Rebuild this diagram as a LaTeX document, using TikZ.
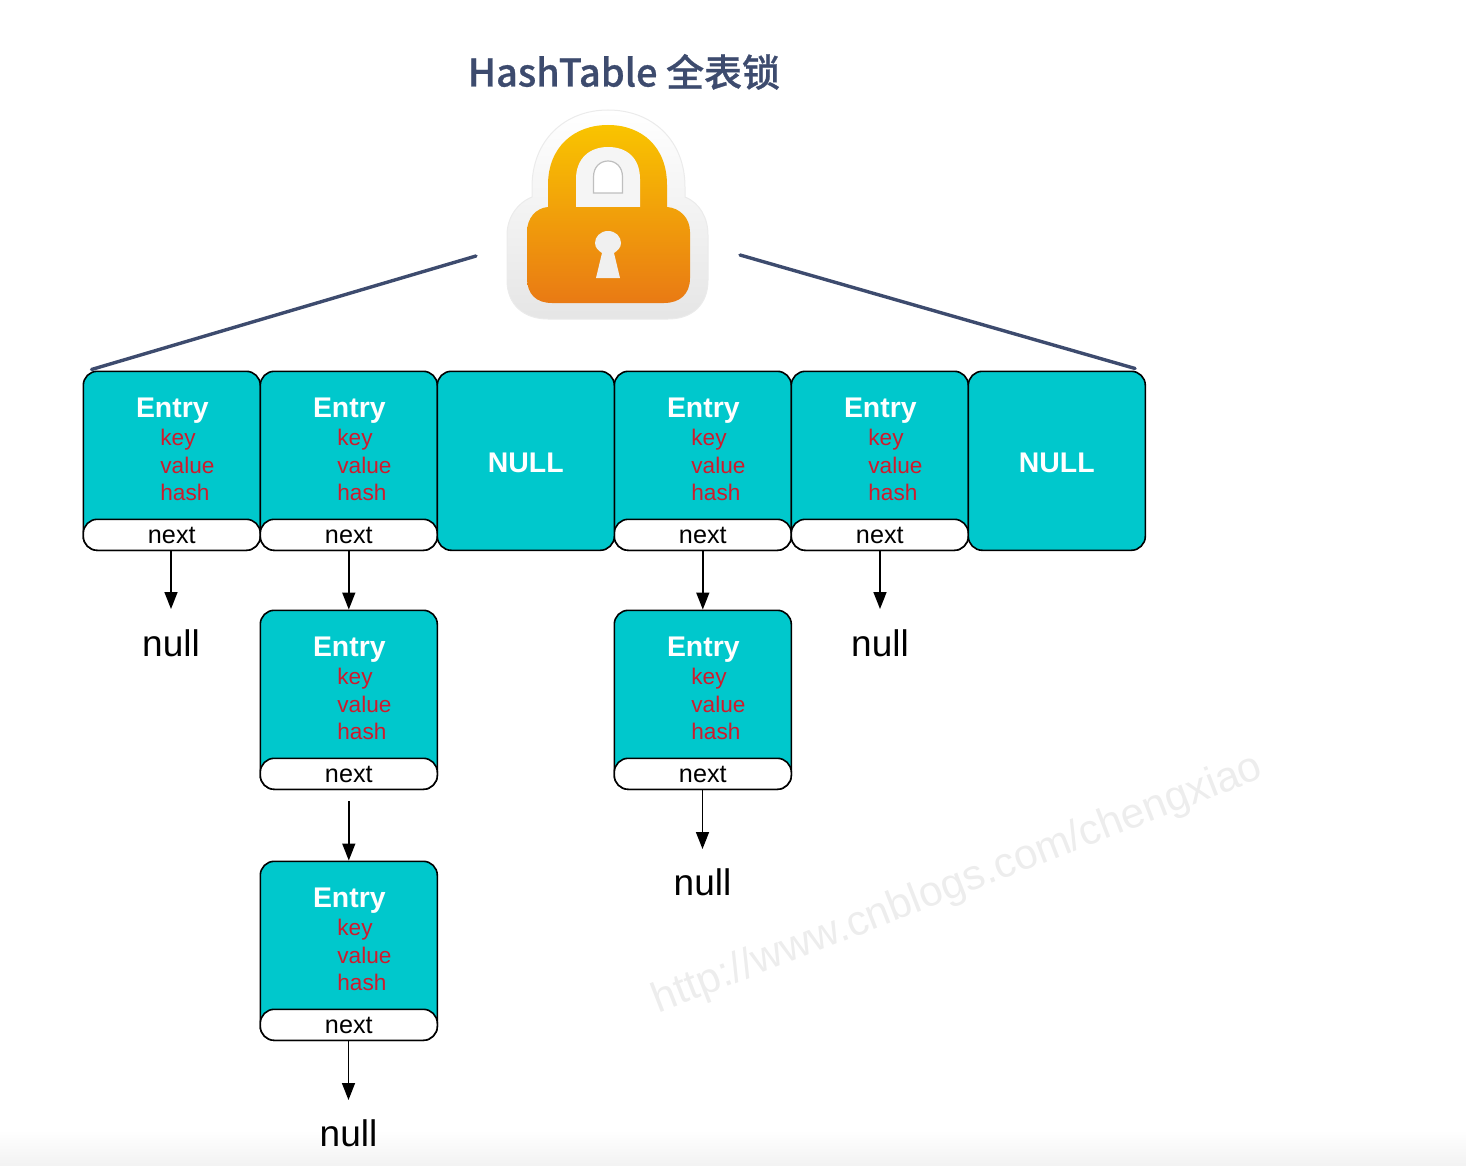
\documentclass[tikz,border=0pt]{standalone}
\usepackage{fontspec}
\setmainfont{Liberation Sans}
\newfontfamily\cjk[FakeBold=0.7]{Noto Sans CJK SC Medium}
\usepackage{tikz}
\usetikzlibrary{
	calc,
	arrows.meta,
	positioning
	}
\definecolor{teal-std}{HTML}{00C8CC}
\definecolor{red-std}{HTML}{D01A2C}
\definecolor{line-std}{HTML}{3D4B6E}
\definecolor{lock-top}{HTML}{F9C400}
\definecolor{lock-bot}{HTML}{E97A14}
\tikzstyle{entry-std}=[draw=black,line width=0.8pt,fill=teal-std,rounded corners=7pt,minimum width=88.5pt,minimum height=89.5pt,inner sep=0pt,anchor=north west]
\tikzstyle{next-std}=[draw=black,line width=0.8pt,fill=white,rounded corners=7pt,minimum width=88.5pt,minimum height=15.5pt,inner sep=0pt,anchor=south,font=\fontsize{12.6}{14}\selectfont,text=black,text height=8.4pt,text depth=0pt]
\tikzstyle{head-std}=[anchor=base,text=white,font=\fontsize{14.2}{16}\selectfont\bfseries]
\tikzstyle{field-std}=[anchor=base west,text=red-std,inner sep=0pt,font=\fontsize{11.3}{13}\selectfont]
\tikzstyle{null-std}=[anchor=base,inner sep=0pt,font=\fontsize{18.5}{20}\selectfont]
\tikzstyle{arrow-std}=[line width=0.8pt,-{Triangle[length=8.5pt,width=6.5pt]}]
\tikzstyle{wire-std}=[draw=line-std,line width=1.7pt,line cap=round]

\begin{document}
\begin{tikzpicture}[x=0.5pt,y=-0.5pt]
\useasboundingbox (0,0) rectangle (1466,1166);
\fill[top color=white,bottom color=black!5,draw=none] (0,1130) rectangle (1466,1166);

\node[rotate=21.3,text=black!7,font=\fontsize{21.2}{24}\selectfont] (mark) at (958,885) {http://www.cnblogs.com/chengxiao};

\node[anchor=base,text=line-std,inner sep=0pt,font=\fontsize{19}{22}\selectfont\cjk] (title) at (624,86.5) {HashTable 全表锁};

% lock
\path[top color=white,bottom color=black!10,draw=black!8,line width=0.5pt]
  (532,197) -- (532,187) .. controls (532,140) and (565,110) .. (608,110)
  .. controls (652,110) and (685,140) .. (685,187) -- (685,197)
  .. controls (700,203) and (708,218) .. (708,235) -- (708,280)
  .. controls (708,305) and (692,319) .. (668,319) -- (548,319)
  .. controls (524,319) and (507,305) .. (507,280) -- (507,235)
  .. controls (507,218) and (517,203) .. (532,197) -- cycle;
\path[top color=lock-top,bottom color=lock-bot]
  (548,207) -- (548,185) .. controls (548,147) and (574,125) .. (608,125)
  .. controls (642,125) and (667,147) .. (667,185) -- (667,207)
  .. controls (680,208) and (690,218) .. (690,232) -- (690,278)
  .. controls (690,294) and (680,303) .. (664,303) -- (552,303)
  .. controls (536,303) and (527,294) .. (527,278) -- (527,232)
  .. controls (527,218) and (536,208) .. (548,207) -- cycle;
\fill[black!4] (576,207) -- (576,179) .. controls (576,158) and (590,147) .. (608,147)
  .. controls (627,147) and (640,158) .. (640,179) -- (640,207) -- cycle;
\filldraw[fill=white,draw=black!25,line width=0.6pt] (593.5,193) -- (593.5,177) .. controls (593.5,167) and (600,161) .. (608,161)
  .. controls (616,161) and (622.5,167) .. (622.5,177) -- (622.5,193) -- cycle;
\fill[black!6] (608,231) .. controls (600,231) and (595,237) .. (595,243)
  .. controls (595,248) and (599,251) .. (602,253) -- (596,278) -- (620,278) -- (614,253)
  .. controls (617,251) and (621,248) .. (621,243) .. controls (621,237) and (616,231) .. (608,231) -- cycle;

\coordinate (lockL) at (476,256);
\coordinate (lockR) at (740,255);

% entries
\foreach \name/\x/\y in {a/83/371,b/260/371,d/614/371,e/791/371,b2/260/610,d2/614/610,b3/260/861}{
  \node[entry-std] (box\name) at (\x-0.5,\y-0.5) {};
  \node[next-std] (next\name) at (box\name.south) {next};
  \node[head-std] (head\name) at ($(box\name.north)+(0.5,47)$) {Entry};
  \node[field-std] (key\name) at ($(box\name.north west)+(77.5,75)$) {key};
  \node[field-std] (val\name) at ($(box\name.north west)+(77.5,102.5)$) {value};
  \node[field-std] (hash\name) at ($(box\name.north west)+(77.5,130)$) {hash};
}
\foreach \name/\x in {c/437,f/968}{
  \node[entry-std] (box\name) at (\x-0.5,370.5) {};
  \node[head-std] (head\name) at ($(box\name.north)+(0,102)$) {NULL};
}

\coordinate (cornerL) at ($(boxa.north west)+(9,-1)$);
\coordinate (cornerR) at ($(boxf.north east)+(-11,-2)$);
\draw[wire-std] (cornerL) -- (lockL);
\draw[wire-std] (lockR) -- (cornerR);

\node[null-std] (nulla) at (171,656.5) {null};
\node[null-std] (nulle) at (880,656.5) {null};
\node[null-std] (nulld) at (702.5,895.5) {null};
\node[null-std] (nullb) at (348.5,1146.5) {null};

\coordinate (enda) at (171,609);
\coordinate (ende) at (880,609);
\coordinate (endd) at (702.5,849);
\coordinate (endb) at (348.5,1100);

\draw[arrow-std] (nexta.south -| enda) -- (enda);
\draw[arrow-std] (nextb.south) -- (boxb2.north);
\draw[arrow-std] (nextd.south) -- (boxd2.north);
\draw[arrow-std] (nexte.south -| ende) -- (ende);
\draw[arrow-std,shorten <=5.5pt] (nextb2.south) -- (boxb3.north);
\draw[arrow-std] (nextd2.south -| endd) -- (endd);
\draw[arrow-std] (nextb3.south -| endb) -- (endb);
\end{tikzpicture}
\end{document}
